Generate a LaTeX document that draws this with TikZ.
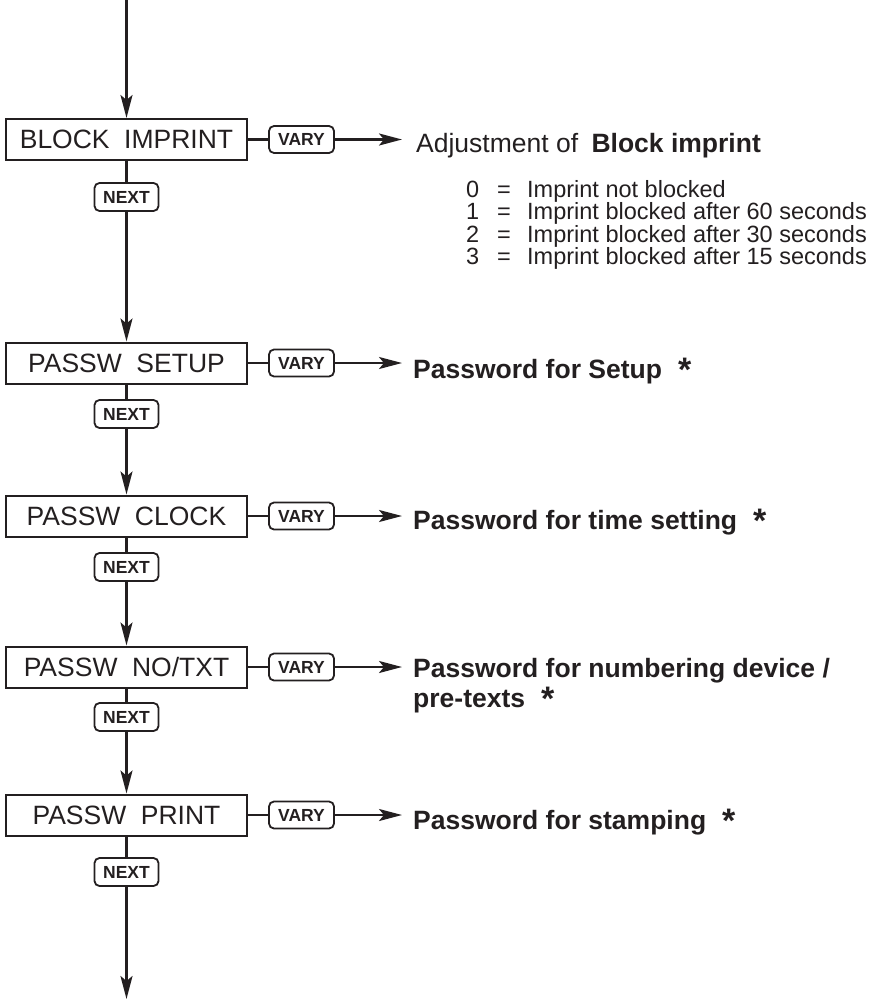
\documentclass[tikz,border=0pt]{standalone}
\usepackage{fontspec}
\setmainfont{Liberation Sans}
\usetikzlibrary{arrows.meta}
\definecolor{ink}{RGB}{35,31,32}
\newcommand{\bigstar}{\hspace{16pt}\raisebox{-3.5pt}{\fontsize{34}{30}\selectfont *}}
\begin{document}
\begin{tikzpicture}[x=1pt,y=-1pt,
  mainbox/.style={draw=ink, line width=2pt, minimum width=241pt, minimum height=41pt, inner sep=0pt, text=ink, font=\fontsize{26.5}{30}\selectfont},
  keybox/.style={draw=ink, line width=1.8pt, rounded corners=5pt, minimum width=65pt, minimum height=27pt, inner sep=0pt, text=ink, font=\bfseries\fontsize{17.5}{20}\selectfont},
  nextbox/.style={keybox, minimum width=64pt, minimum height=28pt},
  flow/.style={draw=ink, line width=2.4pt},
  arr/.style={flow, -{Stealth[length=23pt,width=12pt,inset=5pt]}},
  lbl/.style={anchor=base west, inner sep=0pt, text=ink, font=\bfseries\fontsize{26.5}{30}\selectfont},
  plain/.style={anchor=base west, inner sep=0pt, text=ink, font=\fontsize{26.5}{30}\selectfont},
  opt/.style={anchor=base west, inner sep=0pt, text=ink, font=\fontsize{23.5}{26}\selectfont}
]
\useasboundingbox (0,0) rectangle (882,1000);

% main boxes
\node[mainbox] (b1) at (126.5,139.5) {BLOCK\hspace{0.55em}IMPRINT};
\node[mainbox] (b2) at (126.5,363) {PASSW\hspace{0.55em}SETUP};
\node[mainbox] (b3) at (126.5,516) {PASSW\hspace{0.55em}CLOCK};
\node[mainbox] (b4) at (126.5,667) {PASSW\hspace{0.55em}NO/TXT};
\node[mainbox] (b5) at (126.5,815) {PASSW\hspace{0.55em}PRINT};

% VARY keys
\node[keybox] (v1) at (301.5,139.5) {VARY};
\node[keybox] (v2) at (301.5,363) {VARY};
\node[keybox] (v3) at (301.5,516) {VARY};
\node[keybox] (v4) at (301.5,667) {VARY};
\node[keybox] (v5) at (301.5,815) {VARY};

% NEXT keys
\node[nextbox] (n1) at (126.5,197) {NEXT};
\node[nextbox] (n2) at (126.5,414) {NEXT};
\node[nextbox] (n3) at (126.5,567) {NEXT};
\node[nextbox] (n4) at (126.5,717) {NEXT};
\node[nextbox] (n5) at (126.5,872) {NEXT};

% free ends
\coordinate (top) at (126.5,0);
\coordinate (bot) at (126.5,999);
\coordinate (t1) at (402,139.5);
\coordinate (t2) at (402,363);
\coordinate (t3) at (402,516);
\coordinate (t4) at (402,667);
\coordinate (t5) at (402,815);

% vertical flow
\draw[arr] (top) -- (b1.north);
\draw[flow] (b1.south) -- (n1.north);
\draw[arr] (n1.south) -- (b2.north);
\draw[flow] (b2.south) -- (n2.north);
\draw[arr] (n2.south) -- (b3.north);
\draw[flow] (b3.south) -- (n3.north);
\draw[arr] (n3.south) -- (b4.north);
\draw[flow] (b4.south) -- (n4.north);
\draw[arr] (n4.south) -- (b5.north);
\draw[flow] (b5.south) -- (n5.north);
\draw[arr] (n5.south) -- (bot);

% horizontal flow
\draw[flow] (b1.east) -- (v1.west);  \draw[arr] (v1.east) -- (t1);
\draw[flow] (b2.east) -- (v2.west);  \draw[arr] (v2.east) -- (t2);
\draw[flow] (b3.east) -- (v3.west);  \draw[arr] (v3.east) -- (t3);
\draw[flow] (b4.east) -- (v4.west);  \draw[arr] (v4.east) -- (t4);
\draw[flow] (b5.east) -- (v5.west);  \draw[arr] (v5.east) -- (t5);

% texts
\node[plain] (d1) at (416,153) {Adjustment of\hspace{0.5em}\textbf{Block imprint}};
\node[opt] (o0) at (466,198) {\makebox[31pt][l]{0}\makebox[30pt][l]{=}Imprint not blocked};
\node[opt] (o1) at (466,220) {\makebox[31pt][l]{1}\makebox[30pt][l]{=}Imprint blocked after 60 seconds};
\node[opt] (o2) at (466,242) {\makebox[31pt][l]{2}\makebox[30pt][l]{=}Imprint blocked after 30 seconds};
\node[opt] (o3) at (466,264) {\makebox[31pt][l]{3}\makebox[30pt][l]{=}Imprint blocked after 15 seconds};

\node[lbl] (d2) at (413,378) {Password for Setup\bigstar};
\node[lbl] (d3) at (413,529) {Password for time setting\bigstar};
\node[lbl] (d4a) at (413,677) {Password for numbering device /};
\node[lbl] (d4b) at (413,707) {pre-texts\bigstar};
\node[lbl] (d5) at (413,829) {Password for stamping\bigstar};
\end{tikzpicture}
\end{document}
